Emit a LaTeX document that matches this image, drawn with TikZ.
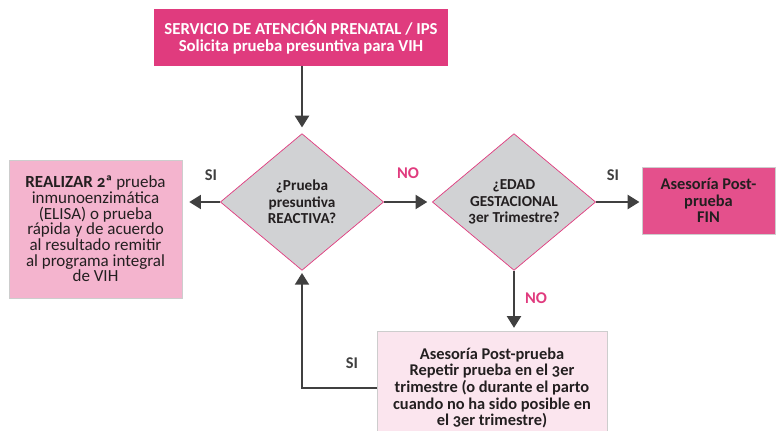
\documentclass[tikz,border=0pt]{standalone}
\usepackage{fontspec}
\setmainfont{Carlito}[Numbers=OldStyle]
\usetikzlibrary{shapes.geometric,arrows.meta}
\definecolor{ipsmagenta}{RGB}{224,59,126}
\definecolor{finrosa}{RGB}{228,80,140}
\definecolor{realizarrosa}{RGB}{244,180,206}
\definecolor{repetirrosa}{RGB}{251,229,238}
\definecolor{rombogris}{RGB}{209,210,212}
\definecolor{flechagris}{RGB}{64,64,64}
\definecolor{bordegris}{RGB}{205,205,205}
\definecolor{textogris}{RGB}{35,31,32}
\begin{document}
\begin{tikzpicture}[x=0.03cm, y=-0.03cm, font=\fontsize{14}{14.2}\selectfont\bfseries, text=textogris,
    flecha/.style={draw=flechagris, line width=1.7pt, -{Triangle[length=10pt, width=12pt]}},
    rombo/.style={diamond, draw=ipsmagenta, line width=0.6pt, fill=rombogris, minimum width=4.9cm, minimum height=4.1cm, inner sep=0pt, align=center, font=\fontsize{13}{14.2}\selectfont\bfseries},
    caja/.style={rectangle, align=center, inner sep=0pt},
    rotulo/.style={text=flechagris}, rotulono/.style={text=ipsmagenta}]
        \clip (0,0) rectangle (777,431);
        \node[caja, fill=ipsmagenta, text=white, minimum width=8.82cm, minimum height=1.71cm, font=\fontsize{14.3}{14.4}\selectfont\bfseries] (ips) at (301,37.5) {SERVICIO DE ATENCIÓN PRENATAL / IPS\\Solicita prueba presuntiva para VIH};
        \node[rombo] (reac) at (302,202) {¿Prueba\\presuntiva\\REACTIVA?};
        \node[rombo] (edad) at (514,202) {¿EDAD\\GESTACIONAL\\3er Trimestre?};
        \node[caja, fill=realizarrosa, draw=bordegris, minimum width=5.19cm, minimum height=4.14cm, font=\fontsize{14.5}{13.4}\selectfont] (realizar) at (95.5,229) {\textbf{REALIZAR 2ª} prueba\\inmunoenzimática\\(ELISA) o prueba\\rápida  y de acuerdo\\al resultado remitir\\al programa integral\\de VIH};
        \node[caja, fill=finrosa, draw=bordegris, minimum width=3.99cm, minimum height=2.01cm] (fin) at (708.5,200.5) {Asesoría Post-\\prueba\\FIN};
        \node[caja, fill=repetirrosa, draw=bordegris, minimum width=6.9cm, minimum height=3.42cm] (repetir) at (492,388) {Asesoría Post-prueba\\Repetir prueba en el 3er\\trimestre (o durante el parto\\cuando no ha sido posible en\\el 3er trimestre)};
        \draw[flecha, shorten >=5pt] (ips.south -| reac.north) -- (reac.north);
        \draw[flecha, shorten >=6pt] (reac.west) -- (reac.west -| realizar.east);
        \draw[flecha, shorten >=4pt] (reac.east) -- (edad.west);
        \draw[flecha, shorten >=2pt] (edad.east) -- (edad.east -| fin.west);
        \draw[flecha, shorten >=2.5pt] (edad.south) -- (edad.south |- repetir.north);
        \draw[flecha, shorten >=2pt] (repetir.west) -| (reac.south);
        \node[rotulo] (si1) at (211,175) {SI};
        \node[rotulono] (no1) at (408,173) {NO};
        \node[rotulo] (si2) at (613,175) {SI};
        \node[rotulono] (no2) at (536,298) {NO};
        \node[rotulo] (si3) at (352,363) {SI};
\end{tikzpicture}
\end{document}
